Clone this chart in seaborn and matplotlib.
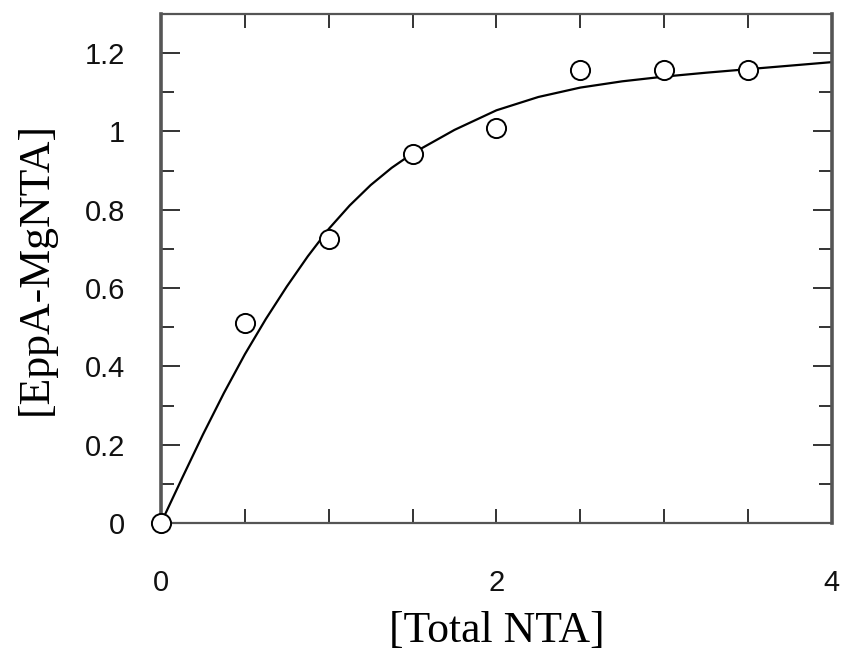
import matplotlib
matplotlib.use("Agg")
import matplotlib.pyplot as plt
import seaborn as sns
import pandas as pd
from matplotlib.ticker import MultipleLocator, FixedLocator

# Measured points
total_nta = [0.0, 0.5, 1.0, 1.5, 2.0, 2.5, 3.0, 3.5]
eppa_mgnta = [0.0, 0.51, 0.725, 0.943, 1.01, 1.157, 1.157, 1.157]

# Fitted binding curve
fit_x = [0.0, 0.125, 0.25, 0.375, 0.5, 0.625, 0.75, 0.875, 1.0, 1.125, 1.25,
         1.375, 1.5, 1.75, 2.0, 2.25, 2.5, 2.75, 3.0, 3.25, 3.5, 3.75, 4.0]
fit_y = [0.0, 0.114, 0.226, 0.332, 0.431, 0.521, 0.604, 0.681, 0.751, 0.811,
         0.863, 0.907, 0.944, 1.004, 1.054, 1.088, 1.112, 1.128, 1.140, 1.150,
         1.159, 1.168, 1.177]

x_ticks = [0, 2, 4]
y_ticks = [0, 0.2, 0.4, 0.6, 0.8, 1.0, 1.2]
y_tick_labels = ["0", "0.2", "0.4", "0.6", "0.8", "1", "1.2"]

sns.set_theme(style="ticks")
plt.rcParams["font.family"] = ["Liberation Sans", "DejaVu Sans"]

fig = plt.figure(figsize=(8.48, 6.59), dpi=100)
ax = fig.add_axes([0.1899, 0.2064, 0.981 - 0.1899, 0.9788 - 0.2064])

points = pd.DataFrame({"x": total_nta, "y": eppa_mgnta})
curve = pd.DataFrame({"x": fit_x, "y": fit_y})

sns.lineplot(data=curve, x="x", y="y", ax=ax, color="black", linewidth=1.6,
             zorder=2)
sns.scatterplot(data=points, x="x", y="y", ax=ax, marker="o", s=190,
                facecolor="white", edgecolor="black", linewidth=1.4,
                zorder=3, clip_on=False)

ax.set_xlim(0, 4)
ax.set_ylim(0, 1.3)

ax.xaxis.set_major_locator(FixedLocator(x_ticks))
ax.xaxis.set_minor_locator(MultipleLocator(0.5))
ax.yaxis.set_major_locator(FixedLocator(y_ticks))
ax.yaxis.set_minor_locator(MultipleLocator(0.1))
ax.set_xticklabels([str(v) for v in x_ticks])
ax.set_yticklabels(y_tick_labels)

spine_color = "#555555"
for side in ["left", "right"]:
    ax.spines[side].set_linewidth(2.6)
    ax.spines[side].set_color(spine_color)
for side in ["top", "bottom"]:
    ax.spines[side].set_linewidth(1.6)
    ax.spines[side].set_color(spine_color)

ax.tick_params(axis="both", which="both", direction="in", top=True,
               right=True, color="#333333", width=1.4, labelcolor="#111111")
ax.tick_params(axis="y", which="major", length=14, pad=26, labelsize=21)
ax.tick_params(axis="y", which="minor", length=9.5)
ax.tick_params(axis="x", which="major", length=10, pad=33, labelsize=21)
ax.tick_params(axis="x", which="minor", length=10)

serif = ["Liberation Serif", "DejaVu Serif"]
ax.set_xlabel("[Total NTA]", fontsize=31.5, family=serif, labelpad=10,
              color="black")
ax.set_ylabel("[EppA-MgNTA]", fontsize=31.5, family=serif, labelpad=21,
              color="black")

fig.savefig("out.png", dpi=100)
